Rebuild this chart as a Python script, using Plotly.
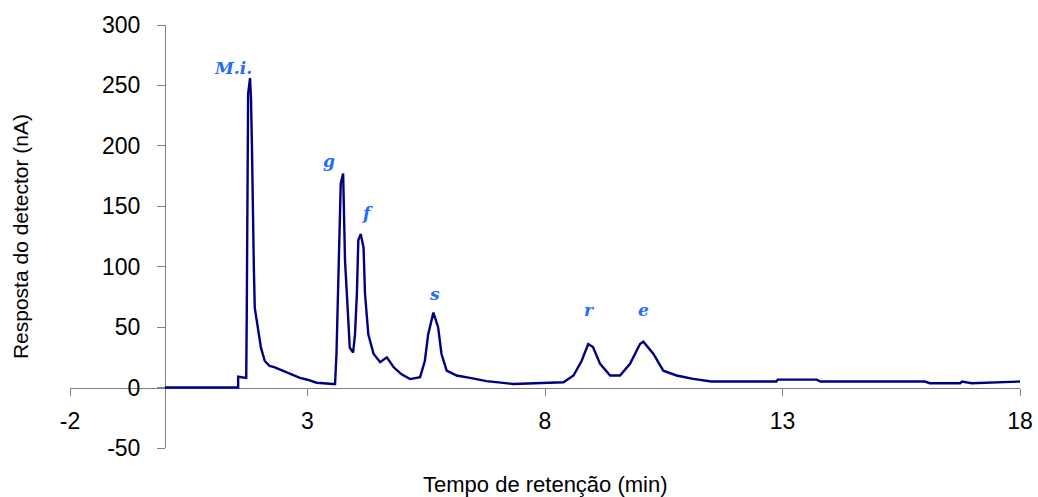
import plotly.graph_objects as go

# Chromatogram trace: retention time (min) vs detector response (nA)
time_min = [0.0, 1.54, 1.54, 1.71, 1.72, 1.75, 1.79, 1.81, 1.83, 1.85, 1.87, 1.89, 1.92,
            1.96, 2.02, 2.1, 2.2, 2.3, 2.56, 2.84, 3.0, 3.19, 3.54, 3.58, 3.61, 3.65,
            3.70, 3.75, 3.77, 3.79, 3.86, 3.89, 3.96, 4.0, 4.04, 4.07, 4.12, 4.15,
            4.18, 4.21, 4.28, 4.39, 4.53, 4.67, 4.81, 4.98, 5.16, 5.37, 5.47, 5.54,
            5.65, 5.75, 5.82, 5.93, 6.14, 6.42, 6.77, 7.33, 8.39, 8.6, 8.77, 8.91,
            9.01, 9.16, 9.37, 9.58, 9.79, 10.0, 10.07, 10.28, 10.49, 10.77, 11.12,
            11.5, 12.87, 12.9, 13.72, 13.8, 16.0, 16.1, 16.74, 16.78, 16.98, 18.0]
response_na = [0.0, 0.0, 9.0, 8.0, 55.0, 243.0, 256.0, 240.0, 200.0, 125.0, 100.0, 66.0, 58.0,
               45.0, 33.0, 22.0, 18.0, 17.0, 12.7, 8.0, 6.5, 4.0, 3.0, 3.0, 28.0, 91.0,
               169.0, 177.0, 150.0, 105.0, 55.0, 33.0, 29.0, 44.0, 78.0, 122.0, 127.0, 122.0,
               116.0, 78.0, 44.0, 28.0, 21.0, 25.0, 17.0, 11.0, 7.0, 8.6, 22.0, 44.0,
               62.0, 50.0, 28.0, 14.0, 10.0, 8.0, 5.3, 3.0, 4.4, 10.0, 22.0, 36.0,
               33.5, 19.6, 10.0, 10.0, 19.6, 36.0, 38.0, 28.0, 14.0, 10.0, 7.2,
               5.0, 5.0, 6.6, 6.6, 5.0, 5.0, 3.6, 3.6, 5.0, 3.6, 5.0]

# Peak names and the retention times of their apexes
peak_names = ["M.i.", "g", "f", "s", "r", "e"]
peak_times = [1.79, 3.75, 4.12, 5.65, 8.91, 10.07]

x_ticks = [-2, 3, 8, 13, 18]
y_ticks = [-50, 0, 50, 100, 150, 200, 250, 300]

AXIS_GREY = "#7f7f7f"
LABEL_BLUE = "#1f6cff"
FONT_FAMILY = "Arial, Liberation Sans, sans-serif"
TICK_FONT = dict(family=FONT_FAMILY, size=23, color="black")

fig = go.Figure()
fig.add_trace(go.Scatter(
    x=time_min, y=response_na, mode="lines",
    line=dict(color="#000080", width=2.4),
    hoverinfo="skip", showlegend=False,
))

# Peak labels sit just above each apex (pixel offsets per label)
label_offsets = {"M.i.": (-17, 10), "g": (-14, 13), "f": (7, 21),
                 "s": (1, 19), "r": (1, 34), "e": (0, 32)}
for name, t in zip(peak_names, peak_times):
    i = time_min.index(t)
    dx, dy = label_offsets[name]
    fig.add_annotation(
        x=time_min[i], y=response_na[i], text=f"<b><i>{name}</i></b>",
        showarrow=False, xshift=dx, yshift=dy, yanchor="middle",
        font=dict(family="DejaVu Serif, serif", size=17, color=LABEL_BLUE),
    )

# Axis titles
fig.add_annotation(x=0.5, y=-0.086, xref="paper", yref="paper",
                   text="Tempo de retenção (min)", showarrow=False,
                   yanchor="middle", font=dict(family=FONT_FAMILY, size=22, color="black"))
fig.add_annotation(x=-0.052, y=0.5, xref="paper", yref="paper",
                   text="Resposta do detector (nA)", showarrow=False,
                   textangle=-90, xanchor="center",
                   font=dict(family=FONT_FAMILY, size=21, color="black"))

fig.update_layout(
    width=1038, height=497,
    margin=dict(l=70, r=18, t=25, b=49),
    paper_bgcolor="white", plot_bgcolor="white",
    xaxis=dict(
        range=[-2, 18], tickvals=x_ticks, ticktext=[str(v) for v in x_ticks],
        showgrid=False, zeroline=False, showline=True, linecolor=AXIS_GREY, linewidth=1,
        ticks="outside", ticklen=7, tickcolor=AXIS_GREY, tickwidth=1,
        tickfont=TICK_FONT, anchor="free", position=50 / 350,
        ticklabelstandoff=6, layer="below traces", automargin=False,
    ),
    yaxis=dict(
        range=[-50, 300], tickvals=y_ticks, ticktext=[str(v) for v in y_ticks],
        showgrid=False, zeroline=False, showline=True, linecolor=AXIS_GREY, linewidth=1,
        ticks="outside", ticklen=8, tickcolor=AXIS_GREY, tickwidth=1,
        tickfont=TICK_FONT, anchor="free", position=0.1,
        ticklabelstandoff=12, layer="below traces", automargin=False,
    ),
)

fig.write_html("out.html")
